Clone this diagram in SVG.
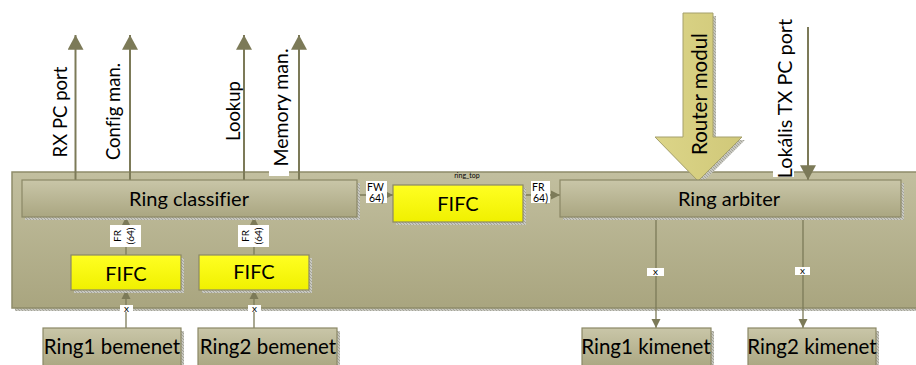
<svg xmlns="http://www.w3.org/2000/svg" width="916" height="365" viewBox="0 0 916 365">
<defs>
<linearGradient id="gCont" x1="0" y1="0" x2="0" y2="1">
<stop offset="0" stop-color="#c2bf9f"/><stop offset="1" stop-color="#a9a57f"/>
</linearGradient>
<linearGradient id="gBox" x1="0" y1="0" x2="0" y2="1">
<stop offset="0" stop-color="#c9c6a8"/><stop offset="1" stop-color="#aaa681"/>
</linearGradient>
<linearGradient id="gFifo" x1="0" y1="0" x2="0" y2="1">
<stop offset="0" stop-color="#ffff22"/><stop offset="1" stop-color="#f0f000"/>
</linearGradient>
<linearGradient id="gRouter" x1="0" y1="0" x2="1" y2="0">
<stop offset="0" stop-color="#dcd588"/><stop offset="1" stop-color="#d0c879"/>
</linearGradient>
<pattern id="hatch" width="3" height="3" patternUnits="userSpaceOnUse">
<rect width="3" height="3" fill="#c8c8c0"/><path d="M0 0L3 3" stroke="#9a9a90" stroke-width="0.8"/>
</pattern>
<marker id="big" markerUnits="userSpaceOnUse" markerWidth="16" markerHeight="16" refX="13" refY="7" orient="auto" viewBox="0 0 14 14">
<path d="M0 0L13 7L0 14Z" fill="#7c7a58"/>
</marker>
<marker id="sm" markerUnits="userSpaceOnUse" markerWidth="10" markerHeight="10" refX="9" refY="4.5" orient="auto" viewBox="0 0 10 9">
<path d="M0 0L9 4.5L0 9Z" fill="#7c7a58"/>
</marker>
</defs>
<style>
text{font-family:Lato,"Open Sans","Liberation Sans",sans-serif;fill:#000;font-variant-ligatures:none}
.box{fill:url(#gBox);stroke:#8b8866;stroke-width:1.2}
.fifo{fill:url(#gFifo);stroke:#8b8866;stroke-width:1.2}
.sh{fill:url(#hatch)}
.lbl{font-size:20px;text-anchor:middle;dominant-baseline:central}
.blbl{font-size:20.5px;text-anchor:middle;dominant-baseline:central}
.vlbl{font-size:18.5px;text-anchor:middle;dominant-baseline:central}
.fifot{font-size:20px;text-anchor:middle;dominant-baseline:central}
.small{font-size:10px}
.wb{fill:#ffffff}
.ln{stroke:#7c7a58;stroke-width:2;fill:none}
.thin{stroke:#7c7a58;stroke-width:1.3;fill:none}
</style>

<g id="container">
<rect x="15" y="175" width="910" height="136" class="sh"/>
<rect x="12" y="172" width="910" height="136" fill="url(#gCont)" stroke="#8f8c6a" stroke-width="1.5"/>
<text x="467" y="178" font-size="7" text-anchor="middle" fill="#444">ring_top</text>
</g>

<g id="connectors">
<line x1="75.5" y1="180" x2="75.5" y2="35" class="ln" marker-end="url(#big)"/>
<line x1="130" y1="180" x2="130" y2="35" class="ln" marker-end="url(#big)"/>
<line x1="244" y1="180" x2="244" y2="35" class="ln" marker-end="url(#big)"/>
<line x1="299" y1="180" x2="299" y2="35" class="ln" marker-end="url(#big)"/>
<line x1="808" y1="27" x2="808" y2="180" class="ln" marker-end="url(#big)"/>
<line x1="126" y1="255" x2="126" y2="217" class="thin" marker-end="url(#sm)"/>
<line x1="254" y1="255" x2="254" y2="217" class="thin" marker-end="url(#sm)"/>
<line x1="126" y1="328" x2="126" y2="290" class="thin" marker-end="url(#sm)"/>
<line x1="254" y1="328" x2="254" y2="290" class="thin" marker-end="url(#sm)"/>
<line x1="357" y1="195" x2="393" y2="195" class="thin" marker-end="url(#sm)"/>
<line x1="523" y1="195" x2="560" y2="195" class="thin" marker-end="url(#sm)"/>
<line x1="656" y1="217" x2="656" y2="328" class="thin" marker-end="url(#sm)"/>
<line x1="803" y1="217" x2="803" y2="328" class="thin" marker-end="url(#sm)"/>
<rect x="110" y="225" width="31" height="22" class="wb"/>
<text transform="translate(121,236) rotate(-90)" class="small" text-anchor="middle">FR</text>
<text transform="translate(134,236) rotate(-90)" class="small" text-anchor="middle">(64)</text>
<rect x="238" y="225" width="31" height="22" class="wb"/>
<text transform="translate(249,236) rotate(-90)" class="small" text-anchor="middle">FR</text>
<text transform="translate(262,236) rotate(-90)" class="small" text-anchor="middle">(64)</text>
<rect x="366" y="181" width="21" height="22" class="wb"/>
<text x="367" y="191" font-size="10.5">FW</text>
<text x="369" y="202" font-size="10.5">64)</text>
<rect x="531" y="181" width="19" height="22" class="wb"/>
<text x="532" y="191" font-size="10.5">FR</text>
<text x="533" y="202" font-size="10.5">64)</text>
<rect x="120" y="305" width="13" height="7" class="wb"/>
<text x="126.5" y="312" font-size="10" text-anchor="middle">x</text>
<rect x="248" y="305" width="13" height="7" class="wb"/>
<text x="254.5" y="312" font-size="10" text-anchor="middle">x</text>
<rect x="647" y="268" width="17" height="8" class="wb"/>
<text x="655.5" y="275" font-size="10" text-anchor="middle">x</text>
<rect x="795" y="267" width="15" height="8" class="wb"/>
<text x="802.5" y="274" font-size="10" text-anchor="middle">x</text>
</g>

<g id="rx-pc-port"><text transform="translate(60,112) rotate(-90)" class="vlbl">RX PC port</text></g>
<g id="config-man"><text transform="translate(113,111.5) rotate(-90)" class="vlbl">Config man.</text></g>
<g id="lookup"><text transform="translate(233,111) rotate(-90)" class="vlbl">Lookup</text></g>
<g id="memory-man"><rect x="269" y="50" width="20" height="126" class="wb"/><text transform="translate(280,107.5) rotate(-90)" class="vlbl" style="font-size:19.5px">Memory man.</text></g>

<g id="router-modul">
<path d="M686 16L716 16L716 140L745 140L701 184L658 140L686 140Z" class="sh"/>
<path d="M683 13L713 13L713 137L742 137L698 181L655 137L683 137Z" fill="url(#gRouter)" stroke="#a5a06c" stroke-width="1"/>
<text transform="translate(699,94) rotate(-90)" class="vlbl" style="font-size:20.5px">Router modul</text>
</g>
<g id="lokalis-tx-pc-port"><rect x="773" y="20" width="21" height="157" class="wb"/><text transform="translate(784,98.5) rotate(-90)" class="vlbl" style="font-size:19.8px">Lokális TX PC port</text></g>

<g id="ring-classifier">
<rect x="25" y="183" width="335" height="37" class="sh"/>
<rect x="22" y="180" width="335" height="37" class="box"/>
<text x="189" y="198" class="lbl">Ring classifier</text>
</g>
<g id="fifo-mid">
<rect x="396" y="188" width="130" height="37" class="sh"/>
<rect x="393" y="185" width="130" height="37" class="fifo"/>
<text x="458" y="203" class="fifot">FIFC</text>
</g>
<g id="ring-arbiter">
<rect x="563" y="183" width="341" height="37" class="sh"/>
<rect x="560" y="180" width="341" height="37" class="box"/>
<text x="729" y="198" class="lbl">Ring arbiter</text>
</g>
<g id="fifo1">
<rect x="74" y="258" width="110" height="35" class="sh"/>
<rect x="71" y="255" width="110" height="35" class="fifo"/>
<text x="126" y="273" class="fifot">FIFC</text>
</g>
<g id="fifo2">
<rect x="202" y="258" width="110" height="35" class="sh"/>
<rect x="199" y="255" width="110" height="35" class="fifo"/>
<text x="254" y="271" class="fifot">FIFC</text>
</g>
<g id="ring1-bemenet">
<rect x="46" y="331" width="138" height="40" class="sh"/>
<rect x="43" y="328" width="138" height="40" class="box"/>
<text x="112" y="346" class="blbl">Ring1 bemenet</text>
</g>
<g id="ring2-bemenet">
<rect x="201" y="331" width="139" height="40" class="sh"/>
<rect x="198" y="328" width="139" height="40" class="box"/>
<text x="268" y="346" class="blbl">Ring2 bemenet</text>
</g>
<g id="ring1-kimenet">
<rect x="585" y="331" width="129" height="40" class="sh"/>
<rect x="582" y="328" width="129" height="40" class="box"/>
<text x="646" y="346" class="blbl">Ring1 kimenet</text>
</g>
<g id="ring2-kimenet">
<rect x="751" y="331" width="128" height="40" class="sh"/>
<rect x="748" y="328" width="128" height="40" class="box"/>
<text x="812" y="346" class="blbl">Ring2 kimenet</text>
</g>
</svg>
